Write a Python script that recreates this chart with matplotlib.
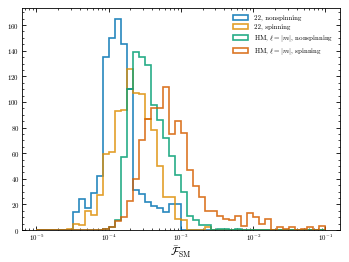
import numpy as np
import matplotlib
matplotlib.use("Agg")
import matplotlib.pyplot as plt
from matplotlib.ticker import AutoMinorLocator, LogLocator, NullFormatter

plt.rcParams['font.family'] = 'serif'
plt.rcParams['font.serif'] = ['cmr10', 'DejaVu Serif']
plt.rcParams['mathtext.fontset'] = 'cm'
plt.rcParams['axes.formatter.use_mathtext'] = True

# log10 bin edges: 48 bins from 1e-5 to 1e-1
log_min = -5
log_max = -1
n_bins = 48

labels = ["22, nonspinning", "22, spinning",
          r"HM, $\ell=|m|$, nonspinning", r"HM, $\ell=|m|$, spinning"]
colors = ["#0173b2", "#de8f05", "#029e73", "#d55e00"]

# counts per bin (bin index k = 0..47)
counts_22_nonspin = [0, 0, 0, 0, 0, 0, 14, 24, 17, 29, 42, 135, 150, 165, 145, 110,
                     31, 28, 22, 19, 17, 14, 20, 20, 0, 0, 0, 0, 0, 0, 0, 0,
                     0, 0, 0, 0, 0, 0, 0, 0, 0, 0, 0, 0, 0, 0, 0, 0]
counts_22_spin = [0, 0, 0, 0, 0, 1, 5, 4, 15, 12, 27, 59, 61, 93, 94, 126,
                  107, 106, 87, 78, 50, 26, 26, 9, 8, 0, 0, 0, 2, 0, 0, 0,
                  0, 0, 0, 0, 0, 0, 0, 0, 0, 0, 0, 0, 0, 0, 0, 0]
counts_hm_nonspin = [0, 0, 0, 0, 0, 0, 0, 0, 0, 0, 0, 1, 2, 8, 57, 110,
                     139, 135, 129, 98, 86, 72, 58, 43, 30, 11, 8, 4, 4, 0, 1, 1,
                     0, 1, 0, 0, 0, 0, 0, 0, 0, 0, 0, 0, 0, 0, 0, 0]
counts_hm_spin = [0, 0, 0, 0, 0, 0, 0, 0, 0, 0, 0, 1, 2, 7, 10, 23,
                  40, 70, 87, 95, 95, 112, 75, 85, 76, 47, 34, 26, 15, 15, 11, 9,
                  8, 11, 3, 13, 10, 5, 9, 0, 2, 1, 2, 0, 1, 2, 0, 3]

series = [counts_22_nonspin, counts_22_spin, counts_hm_nonspin, counts_hm_spin]

edges = np.logspace(log_min, log_max, n_bins + 1)
centers = np.sqrt(edges[:-1] * edges[1:])

fig = plt.figure(figsize=(3.49, 2.62), dpi=100)
ax = fig.add_axes([0.063, 0.122, 0.911, 0.847])

for cnt, lab, col in zip(series, labels, colors):
    ax.hist(centers, bins=edges, weights=cnt, histtype='step', color=col,
            lw=1.2, alpha=0.85, label=lab)

ax.set_xscale('log')
ax.xaxis.set_major_locator(LogLocator(base=10, numticks=10))
ax.xaxis.set_minor_locator(LogLocator(base=10, subs=np.arange(2, 10), numticks=20))
ax.xaxis.set_minor_formatter(NullFormatter())
ax.yaxis.set_minor_locator(AutoMinorLocator())
ax.set_yticks([0, 20, 40, 60, 80, 100, 120, 140, 160])

ax.tick_params(which='both', direction='in', top=True, right=True, labelsize=5, pad=2)
ax.tick_params(which='major', length=3, width=0.6)
ax.tick_params(which='minor', length=1.6, width=0.5)
for s in ax.spines.values():
    s.set_linewidth(0.6)

ax.set_xlabel(r'$\bar{\mathcal{F}}_{\rm SM}$', fontsize=8, labelpad=1)

ax.legend(loc='upper right', fontsize=5, frameon=False, handlelength=2.2,
          handleheight=0.8, borderaxespad=0.6, labelspacing=0.35)

fig.savefig('out.png', dpi=100)
